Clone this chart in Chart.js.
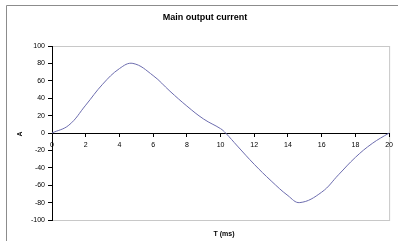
<!DOCTYPE html>
<html>
<head>
<meta charset="utf-8">
<script src="https://cdn.jsdelivr.net/npm/chart.js@4"></script>
<style>
  html, body { margin: 0; padding: 0; background: #fff; }
  #wrap { width: 398px; height: 241px; position: relative; }
</style>
</head>
<body>
<div id="wrap"><canvas id="currentChart"></canvas></div>
<script>
// values (time in ms, current in A)
const timeMs = [0, 1, 2, 3, 4, 4.8, 6, 7, 8, 9, 10, 10.3, 11, 12, 13, 14, 14.7, 16, 17, 18, 19, 20];
const currentA = [0, 9, 32, 56, 74, 80, 66, 48, 31, 16, 5, 0, -15, -36, -55, -72, -80, -68, -48, -28, -12, 0];
const yTicks = [-100, -80, -60, -40, -20, 0, 20, 40, 60, 80, 100];
const xTicks = [0, 2, 4, 6, 8, 10, 12, 14, 16, 18, 20];

const chartTitle = 'Main output current';
const xTitle = 'T (ms)';
const yTitle = 'A';

const points = timeMs.map((t, i) => ({ x: t, y: currentA[i] }));

// frame, plot border and the titles, Excel style
const excelFrame = {
    id: 'excelFrame',
    beforeDraw(chart) {
        const ctx = chart.ctx;
        const a = chart.chartArea;
        ctx.save();
        // outer chart border (only left and top are inside the picture)
        ctx.strokeStyle = '#8c8c8c';
        ctx.lineWidth = 1;
        ctx.beginPath();
        ctx.moveTo(6.5, 241);
        ctx.lineTo(6.5, 5.5);
        ctx.lineTo(398, 5.5);
        ctx.stroke();
        // plot area border
        ctx.strokeStyle = '#c8c8c8';
        ctx.strokeRect(a.left + 0.5, a.top + 0.5, a.right - a.left, a.bottom - a.top);
        ctx.restore();
    },
    afterDraw(chart) {
        const ctx = chart.ctx;
        ctx.save();
        ctx.fillStyle = '#000';
        ctx.textAlign = 'center';
        ctx.textBaseline = 'middle';
        ctx.font = 'bold 9px "Liberation Sans", Arial, sans-serif';
        ctx.fillText(chartTitle, 205, 18);
        ctx.font = 'bold 7px "Liberation Sans", Arial, sans-serif';
        ctx.fillText(xTitle, 224, 234);
        ctx.translate(20, 134);
        ctx.rotate(-Math.PI / 2);
        ctx.fillText(yTitle, 0, 0);
        ctx.restore();
    }
};

const ctx = document.getElementById('currentChart').getContext('2d');
const currentChart = new Chart(ctx, {
    type: 'scatter',
    data: {
        datasets: [{
            label: chartTitle,
            data: points,
            showLine: true,
            borderColor: '#6c6cae',
            borderWidth: 1,
            pointRadius: 0,
            tension: 0.4
        }]
    },
    options: {
        responsive: true,
        maintainAspectRatio: false,
        animation: false,
        layout: {
            padding: { left: 0, top: 46, right: 7, bottom: 21 }
        },
        plugins: {
            legend: { display: false },
            tooltip: { enabled: false }
        },
        scales: {
            x: {
                type: 'linear',
                position: { y: 0 },
                min: 0,
                max: 20,
                afterBuildTicks: (scale) => { scale.ticks = xTicks.map(v => ({ value: v })); },
                ticks: {
                    color: '#000',
                    padding: 5,
                    maxRotation: 0,
                    font: { family: '"Liberation Sans", Arial, sans-serif', size: 7 }
                },
                grid: { display: true, drawOnChartArea: false, drawTicks: true, tickLength: 3, color: '#000' },
                border: { display: true, color: '#000', width: 1 }
            },
            y: {
                min: -100,
                max: 100,
                afterBuildTicks: (scale) => { scale.ticks = yTicks.map(v => ({ value: v })); },
                afterFit: (scale) => { scale.width = 52; },
                ticks: {
                    color: '#000',
                    padding: 3,
                    font: { family: '"Liberation Sans", Arial, sans-serif', size: 7 }
                },
                grid: { display: true, drawOnChartArea: false, drawTicks: true, tickLength: 4, color: '#000' },
                border: { display: true, color: '#000', width: 1 }
            }
        }
    },
    plugins: [excelFrame]
});
</script>
</body>
</html>
